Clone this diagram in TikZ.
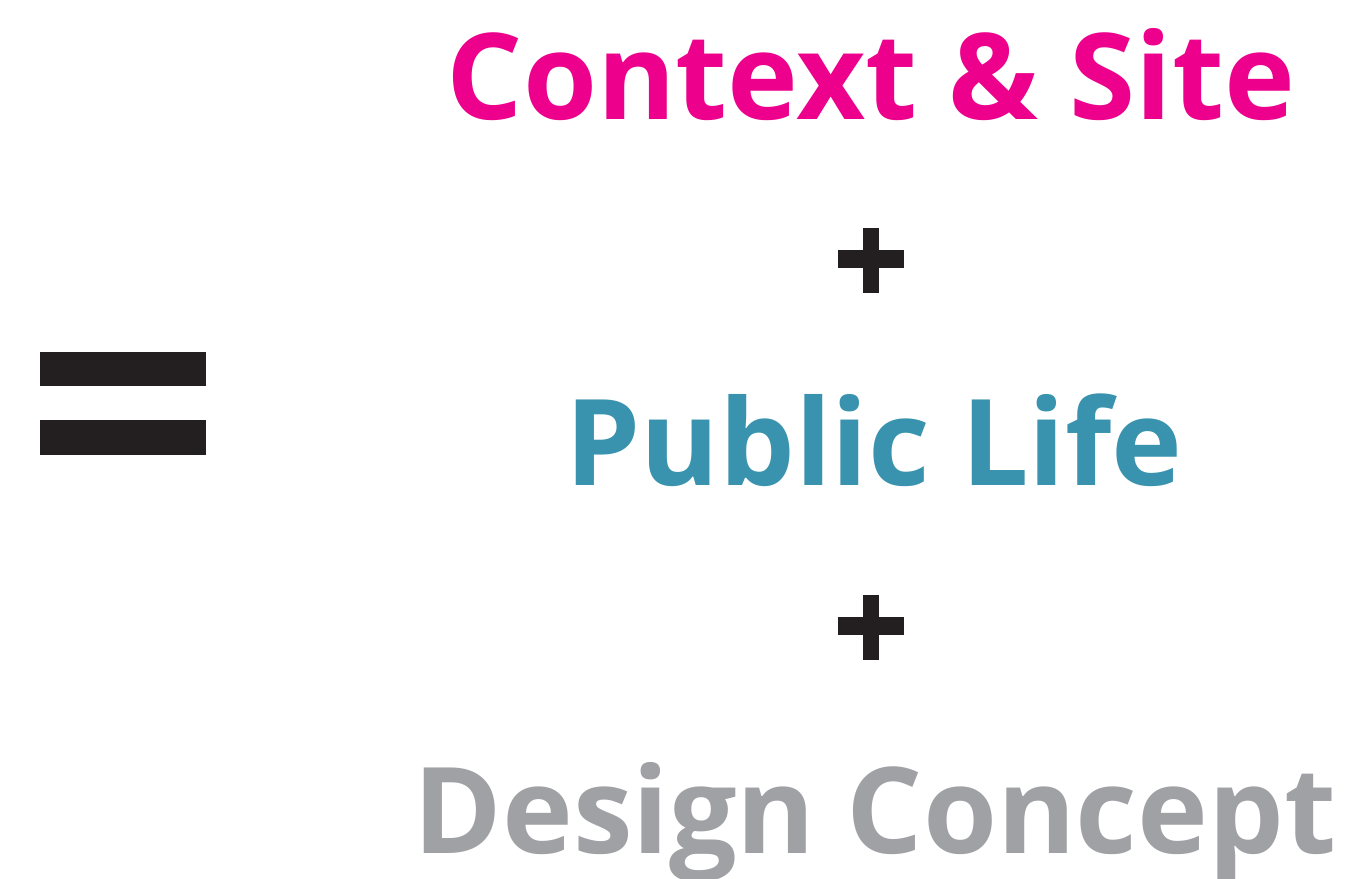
\documentclass[tikz,border=0pt]{standalone}
\usepackage{fontspec}
\setmainfont{Open Sans}
\usepackage{tikz}

\definecolor{magenta}{HTML}{EC008C}
\definecolor{azul}{HTML}{3A93AE}
\definecolor{gris}{HTML}{A0A1A5}
\definecolor{negro}{HTML}{231F20}

\tikzset{
  palabra/.style={anchor=base,inner sep=0pt,font=\fontsize{34.1}{41}\selectfont\bfseries}
}

\begin{document}
\begin{tikzpicture}
		\useasboundingbox (0,0) rectangle (13.55,8.78);
		
		% Signo igual
		\fill[negro] (0.40,4.92) rectangle (2.06,5.26);
		\fill[negro] (0.40,4.23) rectangle (2.06,4.58);
		
		% Terminos
		\node[palabra,text=magenta] (contexto) at (8.71,7.58) {Context \& Site};
		\node[palabra,text=azul] (vida) at (8.74,3.92) {Public Life};
		\node[palabra,text=gris] (diseno) at (8.75,0.25) {Design Concept};
		
		% Signos mas
		\fill[negro] (8.38,6.10) rectangle (9.04,6.28);
		\fill[negro] (8.63,5.85) rectangle (8.79,6.50);
		\fill[negro] (8.38,2.43) rectangle (9.04,2.61);
		\fill[negro] (8.63,2.18) rectangle (8.79,2.83);
	\end{tikzpicture}
\end{document}
